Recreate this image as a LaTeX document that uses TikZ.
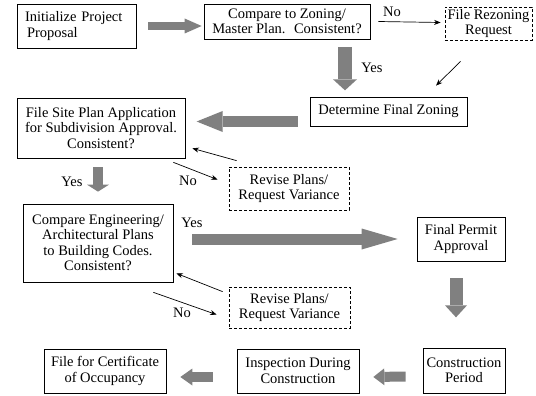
\documentclass[tikz,border=0pt]{standalone}
\usepackage{fontspec}
\setmainfont{Liberation Serif}
\usetikzlibrary{arrows.meta,calc}
\tikzset{
	box/.style={draw, line width=0.7pt, inner sep=0pt, align=center, font=\fontsize{14.5}{15.5}\selectfont},
	dashbox/.style={box, dash pattern=on 3pt off 2pt},
	lbl/.style={inner sep=0pt, font=\fontsize{14.5}{15.5}\selectfont},
	thinarrow/.style={line width=0.7pt, -{Stealth[length=6.5pt,width=5pt]}},
	fatarrow/.style n args={3}{draw=black!50, line width=#1, -{Triangle[length=#2,width=#3,line width=0pt]}},
}

\begin{document}
\begin{tikzpicture}[x=1pt, y=-1pt]
			%%%%% START %%%%%
			\useasboundingbox (0,0) rectangle (536,396);
			
			\node[box, align=left, text width=103pt, inner xsep=8pt, minimum height=44pt] (init) at (76.5,26) {Initialize Project\\\hspace{2pt}Proposal};
			\node[box, minimum width=166pt, minimum height=35pt] (zoning) at (287,21.5) {Compare to Zoning/\\Master Plan.~ Consistent?};
			\node[dashbox, minimum width=87pt, minimum height=33pt] (rezoning) at (488.5,23.5) {File Rezoning\\Request};
			\node[box, minimum width=157pt, minimum height=29pt] (finalzoning) at (388.5,111.5) {Determine Final Zoning};
			
			\node[box, minimum width=168pt, minimum height=60pt] (siteplan) at (101,128) {File Site Plan Application\\for Subdivision Approval.\\Consistent?};
			\node[dashbox, minimum width=120pt, minimum height=43pt] (revisesite) at (289,188.5) {Revise Plans/\\Request Variance};
			
			\node[box, minimum width=150pt, minimum height=78pt] (engineering) at (98,243) {Compare Engineering/\\Architectural Plans\\to Building Codes.\\Consistent?};
			\node[box, minimum width=88pt, minimum height=44pt] (permit) at (461,239) {Final Permit\\Approval};
			\node[dashbox, minimum width=121pt, minimum height=41pt] (reviseeng) at (289.5,307.5) {Revise Plans/\\Request Variance};
			
			\node[box, minimum width=122pt, minimum height=44pt] (occupancy) at (105,371) {File for Certificate\\of Occupancy};
			\node[box, minimum width=122pt, minimum height=44pt] (inspection) at (298,371) {Inspection During\\Construction};
			\node[box, minimum width=82pt, minimum height=45pt] (construction) at (464,370.5) {Construction\\Period};
			
			% labels
			\node[lbl] (noA) at (392,12) {No};
			\node[lbl] (yesA) at (372,68) {Yes};
			\node[lbl] (yesB) at (72,182) {Yes};
			\node[lbl] (noB) at (188,181) {No};
			\node[lbl] (yesC) at (192,223) {Yes};
			\node[lbl] (noC) at (182,313) {No};
			
			% gray arrows
			\draw[fatarrow={8pt}{17pt}{15pt}] ([xshift=12pt]init.east) -- ([xshift=-2pt]init.east -| zoning.west);
			\draw[fatarrow={14pt}{11pt}{24pt}] ([xshift=58pt,yshift=-8pt]zoning.south) -- ++(0,43);
			\draw[fatarrow={11pt}{26pt}{21pt}] ([xshift=-12pt,yshift=-10pt]finalzoning.west) -- ++(-101,0);
			\draw[fatarrow={10pt}{7pt}{22pt}] ([yshift=-9pt]siteplan.south -| engineering.north) -- ([yshift=12pt]engineering.north);
			\draw[fatarrow={11pt}{36pt}{21pt}] ([xshift=19pt]engineering.east |- permit.west) -- ([xshift=-19pt]permit.west);
			\draw[fatarrow={13pt}{12pt}{22pt}] ([xshift=-5pt,yshift=-17pt]permit.south) -- ++(0,39);
			\draw[fatarrow={10pt}{11pt}{17pt}] ([xshift=-17pt,yshift=-6pt]construction.west) -- ([xshift=14pt,yshift=-6pt]inspection.east);
			\draw[fatarrow={10pt}{12pt}{17pt}] ([xshift=-24pt,yshift=-6pt]inspection.west) -- ([xshift=14pt,yshift=-6pt]occupancy.east);
			
			% thin arrows
			\draw[thinarrow] ([xshift=8pt]zoning.east) -- ([xshift=-4pt,yshift=1pt]rezoning.west);
			\draw[thinarrow] ([xshift=-28pt,yshift=-21pt]rezoning.south) -- ([xshift=47.5pt,yshift=11pt]finalzoning.north);
			\draw[thinarrow] ([xshift=8pt,yshift=6pt]revisesite.north west) -- ([xshift=7pt,yshift=10pt]siteplan.south east);
			\draw[thinarrow] ([xshift=-12pt,yshift=-4pt]siteplan.south east) -- ([xshift=-11pt,yshift=-13pt]revisesite.north west);
			\draw[thinarrow] ([xshift=-6pt,yshift=-5pt]reviseeng.north west) -- ([xshift=3pt,yshift=9pt]engineering.south east);
			\draw[thinarrow] ([xshift=-20pt,yshift=-10pt]engineering.south east) -- ([xshift=-12pt,yshift=-28pt]reviseeng.north west);
			
			%%%%% END %%%%%
\end{tikzpicture}
\end{document}
